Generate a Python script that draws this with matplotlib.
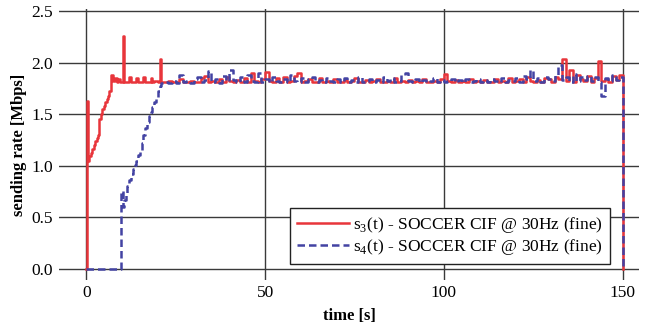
import numpy as np
import matplotlib
matplotlib.use('Agg')
import matplotlib.pyplot as plt

plt.rcParams['font.family'] = ['Liberation Serif', 'DejaVu Serif']
plt.rcParams['mathtext.fontset'] = 'custom'
plt.rcParams['mathtext.rm'] = 'Liberation Serif'

# s3: start-up phase (time [s], rate [Mbps])
t_s3_start = [0.0, 0.2, 0.5, 0.9, 1.3, 1.7, 2.1, 2.5, 2.9, 3.3, 3.7, 4.1, 4.5, 4.9, 5.3,
              5.7, 6.1, 6.5, 6.9, 7.0, 7.5, 8.0, 8.5, 9.0, 9.5, 10.0, 10.2, 10.5, 11.0,
              12.0, 12.5, 13.0, 14.0, 14.5, 15.0, 16.0, 16.5, 17.0, 18.0, 18.5, 19.0,
              20.0, 20.5, 20.8]
s3_start = [0.0, 1.63, 1.05, 1.09, 1.12, 1.16, 1.20, 1.24, 1.27, 1.30, 1.45, 1.50, 1.55,
            1.58, 1.62, 1.65, 1.68, 1.72, 1.76, 1.88, 1.82, 1.85, 1.81, 1.84, 1.81, 1.81,
            2.26, 1.81, 1.81, 1.86, 1.81, 1.81, 1.85, 1.81, 1.81, 1.86, 1.81, 1.81, 1.85,
            1.81, 1.82, 1.81, 2.03, 1.81]

# s3: steady phase, one value per second from t=21 to t=149
s3_steady = [
    1.81, 1.81, 1.82, 1.81, 1.81, 1.84, 1.81, 1.81, 1.82, 1.81,
    1.81, 1.85, 1.87, 1.81, 1.82, 1.81, 1.84, 1.81, 1.86, 1.82,
    1.81, 1.83, 1.81, 1.85, 1.81, 1.90, 1.82, 1.81, 1.84, 1.91,
    1.82, 1.81, 1.85, 1.81, 1.86, 1.81, 1.82, 1.87, 1.90, 1.81,
    1.82, 1.84, 1.81, 1.81, 1.85, 1.81, 1.82, 1.81, 1.84, 1.81,
    1.81, 1.83, 1.81, 1.82, 1.85, 1.81, 1.81, 1.83, 1.81, 1.82,
    1.84, 1.81, 1.81, 1.82, 1.81, 1.85, 1.81, 1.82, 1.81, 1.83,
    1.81, 1.82, 1.81, 1.84, 1.81, 1.81, 1.82, 1.81, 1.84, 1.89,
    1.82, 1.81, 1.83, 1.81, 1.82, 1.81, 1.84, 1.81, 1.82, 1.81,
    1.83, 1.81, 1.81, 1.84, 1.81, 1.82, 1.81, 1.85, 1.81, 1.82,
    1.84, 1.81, 1.86, 1.82, 1.81, 1.83, 1.81, 1.85, 1.84, 1.81,
    1.86, 1.84, 2.03, 1.82, 1.93, 1.81, 1.88, 1.84, 1.82, 1.87,
    1.81, 1.85, 2.01, 1.82, 1.84, 1.81, 1.87, 1.83, 1.88]

# s4: start-up phase
t_s4_start = [0.0, 9.8, 10.2, 10.6, 11.0, 11.5, 12.0, 12.5, 13.0, 13.5, 14.0, 14.5, 15.0,
              15.5, 16.0, 16.5, 17.0, 17.5, 18.0, 18.5, 19.0, 19.5, 20.0, 20.5, 21.0]
s4_start = [0.0, 0.76, 0.60, 0.67, 0.72, 0.80, 0.86, 0.92, 0.97, 1.01, 1.05, 1.10, 1.15,
            1.22, 1.30, 1.37, 1.42, 1.48, 1.52, 1.57, 1.62, 1.67, 1.72, 1.77, 1.80]

# s4: steady phase, one value per second from t=22 to t=149
s4_steady = [
    1.81, 1.80, 1.82, 1.80, 1.88, 1.81, 1.82, 1.80, 1.84,
    1.86, 1.81, 1.83, 1.92, 1.81, 1.84, 1.80, 1.87, 1.82, 1.93,
    1.83, 1.81, 1.86, 1.81, 1.88, 1.82, 1.81, 1.90, 1.81, 1.84,
    1.81, 1.86, 1.82, 1.81, 1.84, 1.81, 1.88, 1.82, 1.81, 1.85,
    1.81, 1.84, 1.86, 1.81, 1.83, 1.81, 1.85, 1.82, 1.81, 1.84,
    1.81, 1.85, 1.81, 1.83, 1.81, 1.86, 1.81, 1.82, 1.84, 1.81,
    1.83, 1.81, 1.86, 1.82, 1.85, 1.81, 1.82, 1.88, 1.90, 1.82,
    1.81, 1.84, 1.81, 1.83, 1.81, 1.82, 1.85, 1.81, 1.83, 1.81,
    1.82, 1.84, 1.81, 1.83, 1.81, 1.84, 1.81, 1.82, 1.84, 1.81,
    1.83, 1.81, 1.84, 1.82, 1.81, 1.85, 1.81, 1.83, 1.82, 1.85,
    1.81, 1.87, 1.84, 1.93, 1.82, 1.85, 1.81, 1.86, 1.84, 1.82,
    1.88, 1.98, 1.83, 1.86, 1.81, 1.89, 1.82, 1.86, 1.83, 1.87,
    1.82, 1.86, 1.81, 1.68, 1.85, 1.82, 1.88, 1.83, 1.86]

t_end = [150.0, 150.2]
s3_end = [1.88, 0.0]
s4_end = [1.86, 0.0]

t3 = np.concatenate([t_s3_start, np.arange(21, 150), t_end])
v3 = np.concatenate([s3_start, s3_steady, s3_end])
t4 = np.concatenate([t_s4_start, np.arange(22, 150), t_end])
v4 = np.concatenate([s4_start, s4_steady, s4_end])

fig = plt.figure(figsize=(6.45, 3.27), dpi=100)
ax = fig.add_axes([0.091, 0.144, 0.9, 0.828])

ax.plot(t3, v3, drawstyle='steps-post', color='#e8353b', lw=1.8,
        label=r'$\mathrm{s}_3$(t) - SOCCER CIF @ 30Hz (fine)')
ax.plot(t4, v4, drawstyle='steps-post', color='#4343a3', lw=1.8, dashes=(3, 1.6),
        label=r'$\mathrm{s}_4$(t) - SOCCER CIF @ 30Hz (fine)')

ax.set_xlim(-7.7, 154.6)
ax.set_ylim(-0.106, 2.517)
ax.set_xticks([0, 50, 100, 150])
ax.set_yticks([0.0, 0.5, 1.0, 1.5, 2.0, 2.5])
ax.set_yticklabels(['0.0', '0.5', '1.0', '1.5', '2.0', '2.5'])
ax.tick_params(length=0, labelsize=12.5, pad=4)
ax.grid(True, color='#3a3a3a', lw=1.0)
ax.set_axisbelow(True)
for s in ax.spines.values():
    s.set_visible(False)

ax.set_xlabel('time [s]', fontsize=12, fontweight='bold', labelpad=5)
ax.set_ylabel('sending rate [Mbps]', fontsize=12, fontweight='bold', labelpad=3)

leg = ax.legend(loc='lower left', bbox_to_anchor=(0.399, 0.059), borderaxespad=0,
                fontsize=12.5, fancybox=False, framealpha=1, edgecolor='#222222',
                handlelength=3.0, handletextpad=0.2, borderpad=0.4, labelspacing=0.1)
leg.get_frame().set_linewidth(1.0)

fig.savefig('out.png', dpi=100)
